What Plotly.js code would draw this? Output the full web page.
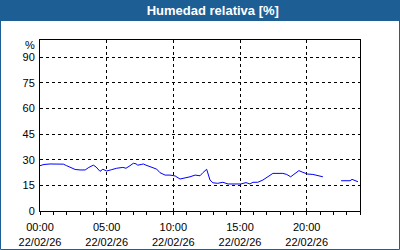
<!DOCTYPE html>
<html>
<head>
<meta charset="utf-8">
<script src="https://cdn.plot.ly/plotly-3.0.1.min.js"></script>
<style>
html,body{margin:0;padding:0;background:#fff;}
#chart{width:400px;height:250px;}
</style>
</head>
<body>
<div id="chart"></div>
<script>
const day = "2026-02-22";
const times = ["00:00","00:18","00:45","01:15","01:45","02:00","02:20","02:38","03:00","03:23","03:40","04:00","04:12","04:30","04:43","05:00","05:23","05:45","06:13","06:27","06:45","07:00","07:12","07:20","07:35","07:45","07:57","08:24","08:45","09:00","09:23","09:45","10:08","10:30","10:53","11:15","11:38","12:00","12:13","12:30","12:45","12:58","13:20","13:43","14:06","14:38","15:04","15:27","15:45","15:58","16:20","16:43","17:06","17:28","18:13","18:30","18:48","19:08","19:25","19:43","20:04","20:28","20:50","21:13","21:50","22:35","23:15","23:24","23:51"];
const humidity = [26.5,27.2,27.5,27.5,27.4,26.5,25.5,24.3,24,24,25.5,26.8,25.8,23.2,24.4,23.4,24.2,25,25.5,25,26.5,27.9,27.6,26.8,27.2,27.5,26.8,25.5,24.5,22.4,21,21,20.5,18.7,19.3,20,21,20.6,22.4,24.4,18.1,16.5,16.2,16.8,15.8,15.6,15.8,16.6,15.8,16.8,16.8,18.1,20,22,22,21.4,20,22,23.6,22.6,21.6,21.4,20.5,20,null,17.7,17.7,18.5,17.1];
const yTicks = [0,15,30,45,60,75,90];
const titleText = "Humedad relativa [%]";
const unitLabel = "%";

const font = {family:"Liberation Sans, Arial, sans-serif", size:11, color:"#000"};
const blue = "#1d5e95";

const trace = {
  x: times.map(t => day + " " + t),
  y: humidity,
  type: "scatter",
  mode: "lines",
  line: {color:"#0000ff", width:1},
  connectgaps: false,
  hoverinfo: "skip"
};

const layout = {
  width:400, height:250,
  margin:{l:40, r:40, t:40, b:39, pad:0},
  paper_bgcolor:"#fff", plot_bgcolor:"#fff",
  showlegend:false,
  font: font,
  title:{text:"<b>"+titleText+"</b>", font:{family:"Liberation Sans, Arial, sans-serif", size:13, color:"#fff"},
         xref:"container", yref:"container", x:0.532, xanchor:"center", y:0.957, yanchor:"middle"},
  xaxis:{
    type:"date",
    range:[day+" 00:00", "2026-02-23 00:00"],
    tick0: day+" 00:00", dtick: 5*3600000,
    tickformat:"%H:%M<br>%d/%m/%y",
    ticks:"outside", ticklen:3, tickcolor:"#000", ticklabelstandoff:3,
    minor:{dtick:3600000, ticks:"outside", ticklen:3, tickcolor:"#000", showgrid:false},
    showgrid:true, gridcolor:"#000", griddash:"3px,3px", gridwidth:1,
    showline:true, linecolor:"#000", linewidth:1, mirror:true,
    zeroline:false, fixedrange:true, tickfont:font
  },
  yaxis:{
    range:[0,100],
    tickvals: yTicks,
    ticktext: yTicks.map(String),
    ticks:"", ticklabelstandoff:2,
    showgrid:true, gridcolor:"#000", griddash:"3px,3px", gridwidth:1,
    showline:true, linecolor:"#000", linewidth:1, mirror:true,
    zeroline:false, fixedrange:true, tickfont:font
  },
  annotations:[{
    text:unitLabel, xref:"paper", yref:"paper", x:-0.008, y:(211-45)/171,
    xanchor:"right", yanchor:"middle", showarrow:false, font:font
  }],
  shapes:[
    {type:"rect", xref:"paper", yref:"paper", x0:-0.125, x1:1.125, y0:(211-21)/171, y1:211/171+0.01,
     fillcolor:blue, line:{width:0}, layer:"below"},
    {type:"rect", xref:"paper", yref:"paper", x0:(0.5-40)/320, x1:(399.5-40)/320, y0:(211-249.5)/171, y1:(211-0.5)/171,
     fillcolor:"rgba(0,0,0,0)", line:{color:blue, width:1}, layer:"above"}
  ]
};

Plotly.newPlot("chart", [trace], layout, {displayModeBar:false, staticPlot:true});
</script>
</body>
</html>
